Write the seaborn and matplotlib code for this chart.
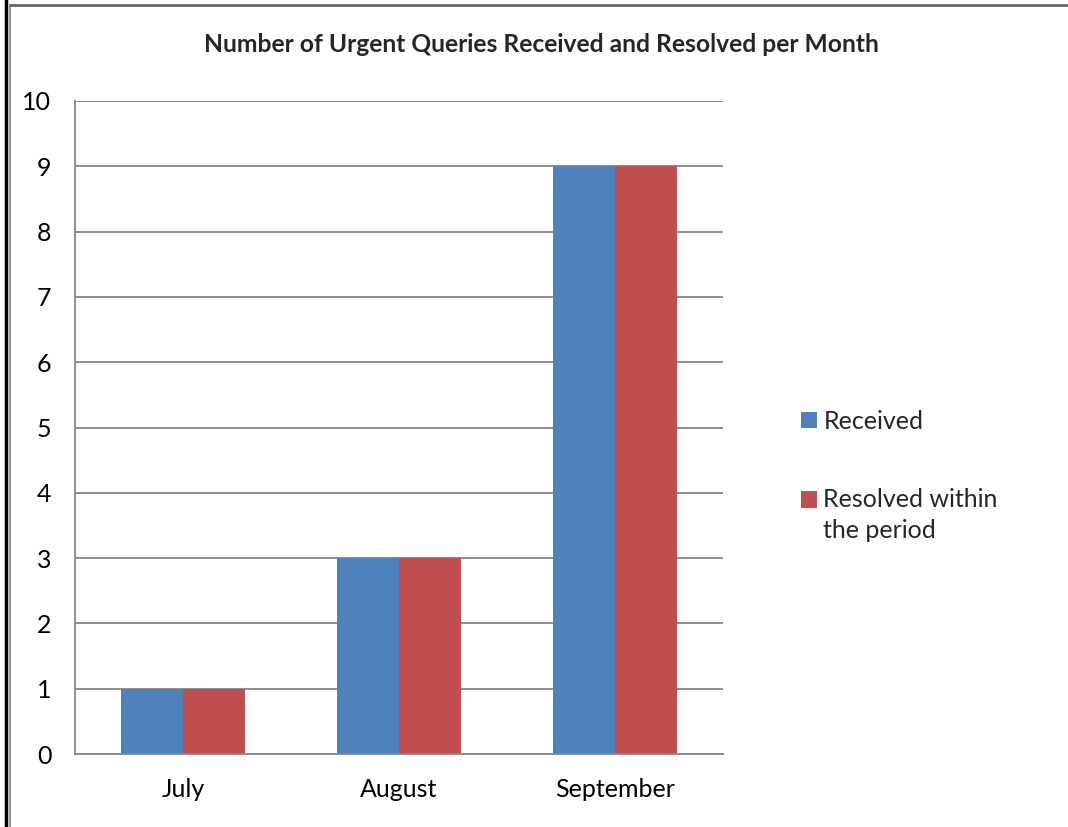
import pandas as pd
import matplotlib
matplotlib.use('Agg')
import matplotlib.pyplot as plt
import seaborn as sns
from matplotlib.lines import Line2D

# data
months = ['July', 'August', 'September']
received = [1, 3, 9]
resolved = [1, 3, 9]
series_names = ['Received', 'Resolved within\nthe period']
colors = ['#4F81BD', '#C0504D']

df = pd.DataFrame({
    'Month': months * 2,
    'Series': [series_names[0]] * 3 + [series_names[1]] * 3,
    'Count': received + resolved,
})

sns.set_style('white')
plt.rcParams['font.family'] = ['Lato', 'DejaVu Sans']

fig = plt.figure(figsize=(10.68, 8.27), dpi=100)
ax = fig.add_axes([75 / 1068, 1 - 754 / 827, 648 / 1068, 653 / 827])

sns.barplot(data=df, x='Month', y='Count', hue='Series', palette=colors,
            width=0.57, gap=0, saturation=1, linewidth=0, ax=ax)

grid_c = '#868686'
ax.set_ylim(0, 10)
ax.set_xlim(-0.5, 2.5)
ax.set_yticks(range(0, 11))
ax.yaxis.grid(True, color=grid_c, linewidth=1.3)
ax.set_axisbelow(True)
for s in ['top', 'right']:
    ax.spines[s].set_visible(False)
for s in ['left', 'bottom']:
    ax.spines[s].set_color(grid_c)
    ax.spines[s].set_linewidth(1.3)
ax.tick_params(axis='y', length=6, color=grid_c, width=1.3, labelsize=18, pad=11)
ax.tick_params(axis='x', which='major', length=0, labelsize=18, pad=17.5)
ax.set_xticks([-0.5, 0.5, 1.5, 2.5], minor=True)
ax.tick_params(axis='x', which='minor', length=6.5, color=grid_c, width=1.3)
ax.set_xlabel('')
ax.set_ylabel('')
for lab in ax.get_yticklabels() + ax.get_xticklabels():
    lab.set_color('black')

ax.set_title('Number of Urgent Queries Received and Resolved per Month',
             fontsize=17.7, fontweight='bold', pad=35.5, x=(541 - 75) / 648)

handles, labels = ax.get_legend_handles_labels()
leg = ax.legend(handles, labels, loc='upper left', bbox_to_anchor=(801 / 1068, 1 - 410 / 827),
                bbox_transform=fig.transFigure, frameon=False, fontsize=18,
                borderpad=0, borderaxespad=0,
                handlelength=0.64, handleheight=0.64, handletextpad=0.25, labelspacing=2.2)
for t in leg.get_texts():
    t.set_linespacing(1.4)
# put the square next to the first line of the two-line label
leg.legend_handles[1].set_y(leg.legend_handles[1].get_y() + 11.5)

# frame lines around the chart area
fig.add_artist(Line2D([6 / 1068, 6 / 1068], [0, 1], color='black', linewidth=2.5))
fig.add_artist(Line2D([10 / 1068, 10 / 1068], [0, 1 - 5 / 827], color='#999999', linewidth=1.5))
fig.add_artist(Line2D([10 / 1068, 1], [1 - 5 / 827, 1 - 5 / 827], color='#666666', linewidth=2))

fig.savefig('out.png', dpi=100)
